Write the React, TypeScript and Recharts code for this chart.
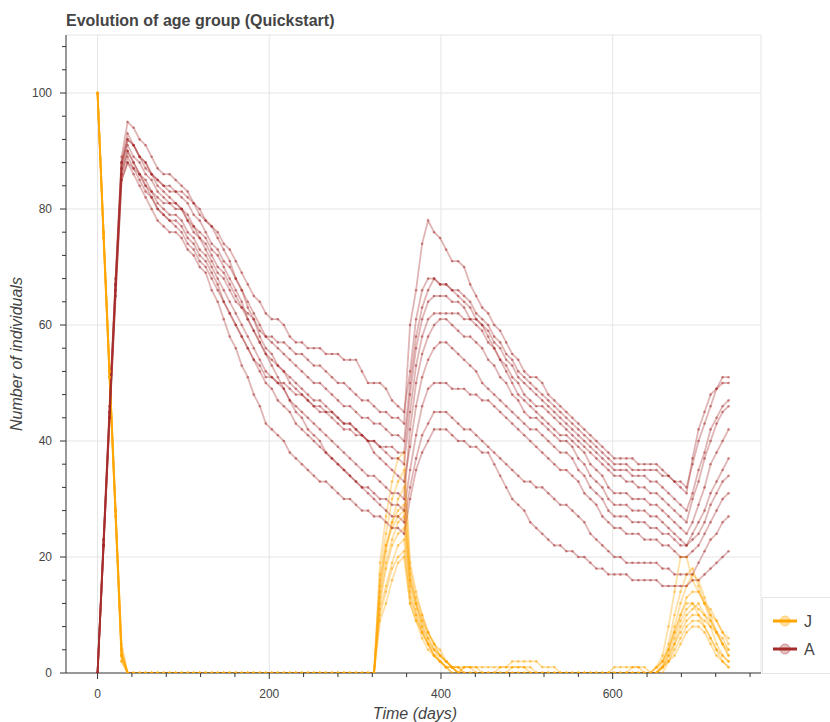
import { CartesianGrid, Line, LineChart, XAxis, YAxis } from 'recharts'

// sampling days (weekly)
const days = [
	0, 7, 14, 21, 28, 35, 42, 49, 56, 63, 70, 77, 84, 91, 98, 105, 112, 119, 126, 133,
	140, 147, 154, 161, 168, 175, 182, 189, 196, 203, 210, 217, 224, 231, 238, 245, 252, 259, 266, 273,
	280, 287, 294, 301, 308, 315, 322, 329, 336, 343, 350, 357, 364, 371, 378, 385, 392, 399, 406, 413,
	420, 427, 434, 441, 448, 455, 462, 469, 476, 483, 490, 497, 504, 511, 518, 525, 532, 539, 546, 553,
	560, 567, 574, 581, 588, 595, 602, 609, 616, 623, 630, 637, 644, 651, 658, 665, 672, 679, 686, 693,
	700, 707, 714, 721, 728, 735,
]

// J (juveniles), one array per run
const jRun0 = [
	100, 76, 52, 28, 3, 0,
	0, 0, 0, 0, 0, 0, 0, 0, 0, 0, 0, 0, 0, 0, 0, 0, 0, 0, 0, 0,
	0, 0, 0, 0, 0, 0, 0, 0, 0, 0, 0, 0, 0, 0, 0, 0, 0, 0, 0, 0,
	0, 15, 22, 26, 28, 29, 17, 12, 9, 6, 4, 3, 2, 1, 0,
	1, 1, 0, 0, 0, 0, 0, 0, 0, 0, 0, 0, 0, 0, 0, 0,
	0, 0, 0, 0, 0, 0, 0, 0, 0, 0, 0, 0, 0, 0, 0,
	0, 1, 3, 8, 14, 20, 20, 16, 14, 12, 10, 9, 7, 6,
]
const jRun1 = [
	100, 75, 51, 27, 3, 0,
	0, 0, 0, 0, 0, 0, 0, 0, 0, 0, 0, 0, 0, 0, 0, 0, 0, 0, 0, 0,
	0, 0, 0, 0, 0, 0, 0, 0, 0, 0, 0, 0, 0, 0, 0, 0, 0, 0, 0, 0,
	0, 19, 27, 33, 37, 38, 19, 14, 10, 7, 5, 3, 2, 1, 1,
	0, 0, 0, 0, 0, 0, 1, 1, 1, 1, 1, 0, 0, 0, 0, 0,
	0, 0, 0, 0, 0, 0, 0, 0, 0, 0, 0, 0, 0, 0, 0,
	0, 0, 2, 5, 10, 14, 17, 18, 15, 12, 9, 7, 5, 4,
]
const jRun2 = [
	100, 76, 52, 28, 4, 0,
	0, 0, 0, 0, 0, 0, 0, 0, 0, 0, 0, 0, 0, 0, 0, 0, 0, 0, 0, 0,
	0, 0, 0, 0, 0, 0, 0, 0, 0, 0, 0, 0, 0, 0, 0, 0, 0, 0, 0, 0,
	0, 17, 24, 30, 33, 35, 18, 13, 10, 7, 5, 4, 2, 1, 1,
	1, 1, 1, 1, 1, 1, 1, 1, 2, 2, 2, 2, 2, 1, 1, 1,
	0, 0, 0, 0, 0, 0, 0, 0, 0, 0, 0, 0, 0, 0, 0,
	0, 1, 2, 4, 8, 12, 15, 17, 16, 13, 10, 7, 5, 3,
]
const jRun3 = [
	100, 75, 51, 27, 2, 0,
	0, 0, 0, 0, 0, 0, 0, 0, 0, 0, 0, 0, 0, 0, 0, 0, 0, 0, 0, 0,
	0, 0, 0, 0, 0, 0, 0, 0, 0, 0, 0, 0, 0, 0, 0, 0, 0, 0, 0, 0,
	0, 14, 21, 26, 30, 32, 16, 12, 8, 6, 4, 2, 1, 1, 0,
	0, 0, 0, 0, 0, 0, 0, 0, 0, 0, 0, 0, 0, 0, 0, 0,
	0, 0, 0, 0, 0, 0, 0, 0, 0, 1, 1, 1, 1, 1, 0,
	0, 0, 1, 4, 7, 10, 13, 14, 14, 12, 11, 9, 7, 5,
]
const jRun4 = [
	100, 76, 52, 28, 5, 0,
	0, 0, 0, 0, 0, 0, 0, 0, 0, 0, 0, 0, 0, 0, 0, 0, 0, 0, 0, 0,
	0, 0, 0, 0, 0, 0, 0, 0, 0, 0, 0, 0, 0, 0, 0, 0, 0, 0, 0, 0,
	0, 16, 22, 25, 27, 28, 15, 11, 8, 5, 3, 2, 1, 0, 0,
	0, 0, 0, 0, 0, 0, 0, 0, 0, 0, 0, 0, 0, 0, 0, 0,
	0, 0, 0, 0, 0, 0, 0, 0, 0, 0, 0, 0, 0, 0, 0,
	0, 0, 1, 3, 6, 9, 11, 12, 11, 10, 8, 5, 3, 2,
]
const jRun5 = [
	100, 76, 51, 27, 3, 0,
	0, 0, 0, 0, 0, 0, 0, 0, 0, 0, 0, 0, 0, 0, 0, 0, 0, 0, 0, 0,
	0, 0, 0, 0, 0, 0, 0, 0, 0, 0, 0, 0, 0, 0, 0, 0, 0, 0, 0, 0,
	0, 12, 18, 22, 24, 25, 14, 10, 7, 5, 3, 2, 1, 1, 0,
	1, 1, 1, 0, 0, 0, 0, 0, 0, 0, 0, 0, 0, 0, 0, 0,
	0, 0, 0, 0, 0, 0, 0, 0, 0, 0, 0, 0, 0, 0, 0,
	0, 1, 2, 4, 7, 10, 12, 12, 10, 8, 6, 4, 2, 1,
]
const jRun6 = [
	100, 75, 51, 28, 3, 0,
	0, 0, 0, 0, 0, 0, 0, 0, 0, 0, 0, 0, 0, 0, 0, 0, 0, 0, 0, 0,
	0, 0, 0, 0, 0, 0, 0, 0, 0, 0, 0, 0, 0, 0, 0, 0, 0, 0, 0, 0,
	0, 13, 19, 23, 26, 27, 16, 12, 9, 7, 5, 3, 2, 1, 1,
	0, 0, 0, 0, 0, 0, 0, 0, 0, 0, 0, 0, 0, 0, 0, 0,
	0, 0, 0, 0, 0, 0, 0, 0, 0, 0, 0, 0, 0, 0, 0,
	0, 0, 1, 2, 5, 8, 10, 11, 12, 10, 9, 7, 5, 3,
]
const jRun7 = [
	100, 76, 52, 28, 4, 0,
	0, 0, 0, 0, 0, 0, 0, 0, 0, 0, 0, 0, 0, 0, 0, 0, 0, 0, 0, 0,
	0, 0, 0, 0, 0, 0, 0, 0, 0, 0, 0, 0, 0, 0, 0, 0, 0, 0, 0, 0,
	0, 11, 15, 19, 22, 23, 13, 10, 7, 5, 4, 3, 2, 1, 0,
	0, 0, 0, 0, 0, 0, 0, 0, 1, 1, 1, 1, 0, 0, 0, 0,
	0, 0, 0, 0, 0, 0, 0, 0, 0, 0, 0, 0, 0, 0, 0,
	0, 0, 1, 3, 5, 7, 9, 10, 10, 9, 8, 7, 6, 4,
]
const jRun8 = [
	100, 75, 51, 27, 2, 0,
	0, 0, 0, 0, 0, 0, 0, 0, 0, 0, 0, 0, 0, 0, 0, 0, 0, 0, 0, 0,
	0, 0, 0, 0, 0, 0, 0, 0, 0, 0, 0, 0, 0, 0, 0, 0, 0, 0, 0, 0,
	0, 10, 14, 18, 20, 21, 12, 9, 7, 5, 3, 2, 1, 0, 0,
	0, 0, 0, 0, 0, 0, 0, 0, 0, 0, 0, 0, 0, 0, 0, 0,
	0, 0, 0, 0, 0, 0, 0, 0, 0, 0, 0, 0, 0, 0, 0,
	0, 0, 0, 2, 4, 6, 8, 9, 9, 8, 6, 4, 3, 2,
]
const jRun9 = [
	100, 76, 52, 28, 3, 0,
	0, 0, 0, 0, 0, 0, 0, 0, 0, 0, 0, 0, 0, 0, 0, 0, 0, 0, 0, 0,
	0, 0, 0, 0, 0, 0, 0, 0, 0, 0, 0, 0, 0, 0, 0, 0, 0, 0, 0, 0,
	0, 9, 12, 16, 19, 20, 12, 9, 6, 4, 3, 2, 1, 1, 0,
	0, 0, 0, 0, 0, 0, 0, 0, 0, 0, 0, 0, 0, 0, 0, 0,
	0, 0, 0, 0, 0, 0, 0, 0, 0, 0, 0, 0, 1, 1, 1,
	0, 0, 1, 2, 3, 5, 7, 8, 8, 7, 5, 3, 2, 1,
]

// A (adults), one array per run
const aRun0 = [
	0, 23, 46, 68, 89, 95, 94, 92, 91, 89, 87, 86, 86, 85, 84,
	83, 81, 80, 78, 77, 76, 74, 73, 71, 69, 67, 65, 64, 62,
	61, 61, 60, 58, 57, 57, 56, 56, 56, 55, 55, 55, 54, 54, 54,
	52, 50, 50, 50, 49, 47, 46, 45,
	52, 61, 66, 68, 68, 67, 67, 66, 66, 65, 64, 62, 61,
	60, 58, 57, 55, 54, 52, 51, 50, 49, 48, 47, 46, 45, 44, 43,
	42, 41, 40, 39, 38, 37, 36, 36, 36, 35, 35, 35, 35, 35,
	34, 34, 33, 32, 31, 37, 42, 45, 48, 49, 50, 50,
]
const aRun1 = [
	0, 22, 45, 67, 88, 93, 91, 89, 87, 86, 84, 83, 82, 81, 80,
	78, 76, 75, 73, 71, 69, 68, 66, 64, 63, 62, 61, 59, 58,
	58, 57, 57, 56, 55, 55, 54, 53, 53, 52, 51, 50, 50, 49, 48,
	47, 47, 46, 45, 45, 44, 44, 43,
	60, 66, 74, 78, 76, 75, 73, 71, 71, 70, 67, 65, 63,
	62, 60, 59, 57, 55, 54, 52, 51, 51, 50, 48, 47, 46, 45, 44,
	43, 42, 41, 40, 39, 38, 37, 37, 37, 37, 36, 36, 36, 36,
	35, 34, 33, 33, 32, 36, 40, 43, 46, 49, 51, 51,
]
const aRun2 = [
	0, 23, 45, 67, 88, 92, 91, 89, 88, 86, 85, 84, 83, 83, 82,
	81, 79, 78, 76, 74, 73, 71, 70, 68, 66, 64, 62, 60, 58,
	57, 56, 55, 54, 53, 52, 51, 50, 50, 49, 48, 47, 46, 46, 45,
	44, 44, 43, 43, 42, 41, 41, 40,
	50, 58, 63, 66, 68, 67, 67, 66, 65, 64, 63, 61, 60,
	59, 57, 56, 54, 53, 51, 50, 49, 48, 47, 46, 45, 44, 43, 42,
	41, 40, 39, 38, 37, 36, 35, 35, 35, 34, 34, 34, 33, 33,
	32, 31, 30, 29, 28, 31, 35, 38, 42, 44, 46, 47,
]
const aRun3 = [
	0, 22, 45, 67, 87, 92, 91, 89, 88, 86, 85, 84, 84, 83, 83,
	82, 81, 79, 78, 77, 75, 73, 71, 68, 66, 63, 61, 58, 56,
	55, 53, 52, 50, 49, 48, 47, 46, 45, 45, 44, 43, 42, 42, 41,
	41, 40, 40, 39, 39, 39, 38, 38,
	48, 56, 61, 64, 65, 65, 65, 64, 64, 63, 61, 60, 59,
	57, 56, 54, 53, 51, 50, 48, 47, 46, 46, 45, 44, 43, 42, 41,
	40, 39, 38, 37, 36, 35, 34, 34, 33, 33, 32, 32, 31, 31,
	30, 29, 28, 27, 26, 30, 33, 37, 40, 43, 45, 46,
]
const aRun4 = [
	0, 23, 46, 68, 88, 91, 89, 88, 86, 85, 83, 82, 81, 81, 80,
	78, 77, 75, 74, 72, 70, 69, 67, 65, 63, 61, 59, 57, 55,
	54, 53, 52, 51, 50, 49, 48, 47, 47, 46, 45, 44, 43, 43, 42,
	41, 40, 40, 39, 38, 37, 37, 36,
	45, 53, 58, 61, 62, 62, 62, 62, 62, 61, 61, 61, 60,
	58, 56, 54, 52, 50, 48, 47, 46, 45, 44, 43, 42, 41, 41, 40,
	39, 38, 36, 35, 34, 32, 31, 31, 31, 30, 30, 30, 29, 29,
	28, 27, 26, 25, 24, 26, 29, 32, 36, 38, 40, 42,
]
const aRun5 = [
	0, 22, 45, 67, 87, 90, 88, 86, 84, 82, 80, 79, 78, 77, 76,
	74, 73, 71, 70, 68, 66, 64, 62, 60, 58, 56, 54, 53, 51,
	51, 50, 50, 49, 48, 48, 47, 46, 46, 45, 45, 44, 43, 43, 42,
	41, 40, 38, 37, 36, 35, 34, 33,
	39, 46, 51, 54, 56, 57, 57, 56, 55, 54, 53, 52, 50,
	49, 48, 47, 46, 45, 44, 43, 42, 42, 41, 40, 39, 38, 38, 37,
	35, 34, 32, 31, 30, 28, 27, 27, 27, 26, 26, 26, 25, 25,
	24, 24, 23, 22, 22, 23, 24, 26, 29, 31, 33, 34,
]
const aRun6 = [
	0, 22, 44, 66, 86, 90, 88, 86, 84, 83, 81, 80, 79, 79, 78,
	76, 75, 73, 72, 70, 68, 66, 64, 62, 60, 58, 56, 54, 52,
	51, 50, 49, 47, 46, 45, 44, 43, 42, 41, 40, 39, 38, 37, 36,
	35, 34, 34, 33, 32, 31, 31, 30,
	42, 50, 55, 58, 60, 61, 61, 60, 59, 58, 58, 57, 56,
	54, 53, 51, 50, 48, 47, 45, 44, 44, 43, 42, 41, 40, 40, 39,
	37, 36, 34, 33, 32, 30, 29, 29, 29, 28, 28, 28, 27, 27,
	26, 25, 24, 23, 22, 24, 26, 28, 31, 33, 35, 37,
]
const aRun7 = [
	0, 22, 44, 66, 86, 89, 87, 85, 83, 82, 80, 79, 78, 78, 77,
	75, 74, 72, 71, 69, 67, 64, 62, 60, 58, 56, 54, 52, 50,
	49, 47, 46, 45, 43, 42, 41, 40, 39, 38, 37, 36, 35, 34, 33,
	32, 32, 31, 30, 30, 29, 29, 28,
	35, 41, 46, 49, 50, 50, 50, 49, 49, 49, 48, 48, 47,
	47, 46, 45, 44, 43, 42, 41, 40, 39, 38, 37, 36, 35, 35, 34,
	33, 31, 30, 29, 27, 26, 25, 25, 24, 24, 24, 23, 23, 23,
	22, 22, 21, 20, 20, 21, 22, 24, 26, 28, 30, 31,
]
const aRun8 = [
	0, 22, 44, 65, 85, 88, 87, 86, 85, 83, 82, 81, 81, 80, 80,
	79, 77, 76, 75, 73, 72, 70, 68, 66, 64, 61, 59, 57, 55,
	53, 51, 49, 47, 45, 44, 42, 41, 40, 38, 37, 36, 35, 34, 33,
	32, 31, 30, 29, 28, 27, 27, 26,
	32, 37, 41, 43, 45, 45, 45, 44, 43, 42, 42, 41, 40,
	39, 38, 37, 36, 35, 34, 33, 33, 32, 32, 31, 30, 29, 29, 28,
	27, 26, 24, 23, 22, 21, 20, 20, 19, 19, 19, 19, 19, 19,
	18, 18, 17, 17, 17, 17, 19, 21, 23, 24, 26, 27,
]
const aRun9 = [
	0, 22, 44, 65, 85, 88, 86, 84, 82, 80, 78, 77, 76, 76, 75,
	73, 72, 70, 69, 66, 64, 61, 58, 56, 53, 51, 48, 46, 43,
	42, 41, 40, 38, 37, 36, 35, 34, 33, 33, 32, 31, 30, 30, 29,
	28, 28, 27, 27, 26, 25, 25, 24,
	30, 35, 38, 40, 42, 42, 42, 41, 40, 40, 39, 39, 38,
	38, 36, 34, 32, 30, 29, 28, 26, 25, 24, 23, 22, 22, 21, 21,
	20, 20, 19, 18, 18, 17, 17, 17, 17, 16, 16, 16, 16, 16,
	15, 15, 15, 15, 15, 16, 16, 17, 18, 19, 20, 21,
]

const juvenileRuns = [jRun0, jRun1, jRun2, jRun3, jRun4, jRun5, jRun6, jRun7, jRun8, jRun9]
const adultRuns = [aRun0, aRun1, aRun2, aRun3, aRun4, aRun5, aRun6, aRun7, aRun8, aRun9]

const xTicks = [0, 40, 80, 120, 160, 200, 240, 280, 320, 360, 400, 440, 480, 520, 560, 600, 640, 680, 720, 760]
const xLabels = [0, 200, 400, 600]
const yTicks = [0, 4, 8, 12, 16, 20, 24, 28, 32, 36, 40, 44, 48, 52, 56, 60, 64, 68, 72, 76, 80, 84, 88, 92, 96, 100, 104, 108]
const yLabels = [0, 20, 40, 60, 80, 100]

const J_COLOR = '#ffa500'
const A_COLOR = '#a52a2a'
const AXIS = '#333'
const TEXT = '#444'
const FONT = '"Liberation Sans", Arial, Helvetica, sans-serif'

const data = days.map((day, i) => {
	const row: Record<string, number> = { day }
	juvenileRuns.forEach((run, r) => {
		row['j' + r] = run[i]
	})
	adultRuns.forEach((run, r) => {
		row['a' + r] = run[i]
	})
	return row
})

function XTick({ x, y, payload }: any) {
	const major = xLabels.includes(payload.value)
	return (
		<g>
			<line x1={x} x2={x} y1={y} y2={y + (major ? 6 : 4)} stroke={AXIS} />
			{major && (
				<text x={x} y={y + 24.5} textAnchor='middle' fontSize={12} fill={TEXT} fontFamily={FONT}>
					{payload.value}
				</text>
			)}
		</g>
	)
}

function YTick({ x, y, payload }: any) {
	const major = yLabels.includes(payload.value)
	return (
		<g>
			<line x1={x} x2={x - (major ? 6 : 4)} y1={y} y2={y} stroke={AXIS} />
			{major && (
				<text x={x - 14} y={y + 4.3} textAnchor='end' fontSize={12} fill={TEXT} fontFamily={FONT}>
					{payload.value}
				</text>
			)}
		</g>
	)
}

function seriesLine(key: string, color: string) {
	return (
		<Line
			key={key}
			type='linear'
			dataKey={key}
			stroke={color}
			strokeOpacity={0.35}
			strokeWidth={1.8}
			dot={{ r: 1.3, fill: color, fillOpacity: 0.5, stroke: 'none' }}
			activeDot={false}
			isAnimationActive={false}
		/>
	)
}

export default function App() {
	return (
		<div
			style={{
				position: 'absolute',
				left: 0,
				top: 0,
				width: 830,
				height: 722,
				overflow: 'hidden',
				background: '#fff',
				fontFamily: FONT,
			}}
		>
			<div
				style={{
					position: 'absolute',
					left: 66,
					top: 12.5,
					fontSize: 16,
					lineHeight: '16px',
					fontWeight: 'bold',
					color: TEXT,
					whiteSpace: 'nowrap',
				}}
			>
				Evolution of age group (Quickstart)
			</div>

			<LineChart
				width={830}
				height={722}
				data={data}
				margin={{ top: 35, right: 69, bottom: 0, left: 16 }}
			>
				<CartesianGrid
					stroke='#e5e5e5'
					horizontalValues={[20, 40, 60, 80, 100, 110]}
					verticalValues={[0, 200, 400, 600, 772.75]}
				/>
				<XAxis
					type='number'
					dataKey='day'
					domain={[-36.75, 772.75]}
					allowDataOverflow
					ticks={xTicks}
					interval={0}
					tick={<XTick />}
					tickLine={false}
					tickSize={0}
					tickMargin={0}
					height={49}
					axisLine={{ stroke: AXIS }}
				/>
				<YAxis
					type='number'
					domain={[0, 110]}
					allowDataOverflow
					ticks={yTicks}
					interval={0}
					tick={<YTick />}
					tickLine={false}
					tickSize={0}
					tickMargin={0}
					width={50}
					axisLine={{ stroke: AXIS }}
				/>
				{juvenileRuns.map((_, r) => seriesLine('j' + r, J_COLOR))}
				{adultRuns.map((_, r) => seriesLine('a' + r, A_COLOR))}
			</LineChart>

			<div
				style={{
					position: 'absolute',
					left: 17,
					top: 354,
					transform: 'translate(-50%, -50%) rotate(-90deg)',
					fontSize: 16,
					lineHeight: '16px',
					fontStyle: 'italic',
					color: TEXT,
					whiteSpace: 'nowrap',
				}}
			>
				Number of individuals
			</div>
			<div
				style={{
					position: 'absolute',
					left: 415,
					top: 706,
					transform: 'translateX(-50%)',
					fontSize: 16,
					lineHeight: '16px',
					fontStyle: 'italic',
					color: TEXT,
					whiteSpace: 'nowrap',
				}}
			>
				Time (days)
			</div>

			{/* legend, outside the plot on the right */}
			<svg
				width={68}
				height={77}
				style={{ position: 'absolute', left: 762, top: 597 }}
			>
				<rect x={0.5} y={0.5} width={80} height={76} fill='#fff' stroke='#e5e5e5' />
				<line x1={11} x2={35} y1={24} y2={24} stroke={J_COLOR} strokeWidth={3} />
				<circle cx={23} cy={24} r={5} fill={J_COLOR} fillOpacity={0.35} stroke={J_COLOR} strokeOpacity={0.4} />
				<text x={42} y={29.7} fontSize={16} fill={TEXT} fontFamily={FONT}>
					J
				</text>
				<line x1={11} x2={35} y1={52} y2={52} stroke={A_COLOR} strokeWidth={3} />
				<circle cx={23} cy={52} r={5} fill={A_COLOR} fillOpacity={0.3} stroke={A_COLOR} strokeOpacity={0.4} />
				<text x={42} y={57.7} fontSize={16} fill={TEXT} fontFamily={FONT}>
					A
				</text>
			</svg>
		</div>
	)
}
